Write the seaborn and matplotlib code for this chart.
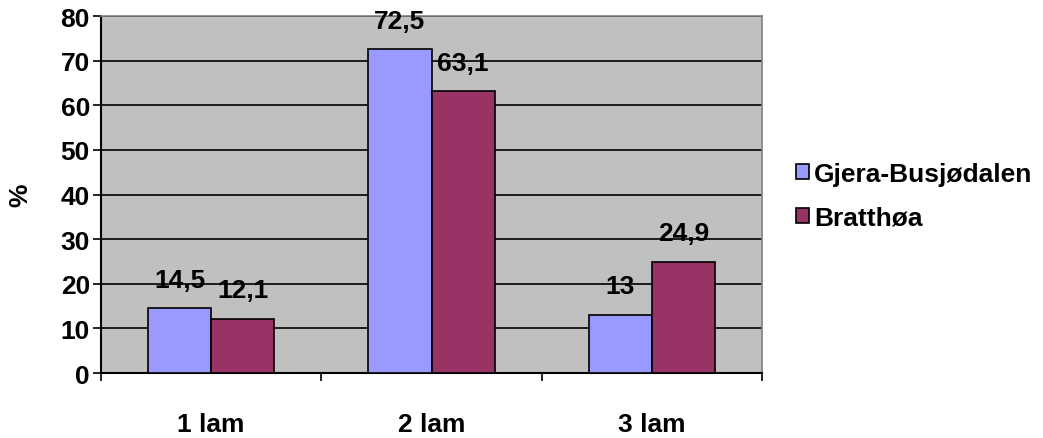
import matplotlib
matplotlib.use('Agg')
import matplotlib.pyplot as plt
from matplotlib.ticker import FixedLocator, MultipleLocator
import seaborn as sns
import pandas as pd

categories = ['1 lam', '2 lam', '3 lam']
gjera = [14.5, 72.5, 13]
bratthoa = [12.1, 63.1, 24.9]
series_names = ['Gjera-Busjødalen', 'Bratthøa']

df = pd.DataFrame({
    'kategori': categories * 2,
    'verdi': gjera + bratthoa,
    'omrade': [series_names[0]] * 3 + [series_names[1]] * 3,
})

sns.set_style('white')
plt.rcParams['font.family'] = ['Liberation Sans', 'DejaVu Sans']
plt.rcParams['font.weight'] = 'bold'
plt.rcParams['text.color'] = 'black'
plt.rcParams['xtick.color'] = 'black'
plt.rcParams['ytick.color'] = 'black'
plt.rcParams['axes.labelcolor'] = 'black'

FS = 19

fig = plt.figure(figsize=(10.43, 4.39), dpi=100)
ax = fig.add_axes([101 / 1043, 1 - 374 / 439, 661 / 1043, 357 / 439])
ax.set_facecolor('#c0c0c0')

sns.barplot(data=df, x='kategori', y='verdi', hue='omrade',
            palette=['#9999ff', '#993366'], edgecolor='black', linewidth=1.2,
            width=0.573, saturation=1, ax=ax, zorder=3, legend=True)

for cont in ax.containers:
    ax.bar_label(cont, labels=[f'{v:g}'.replace('.', ',') for v in cont.datavalues],
                 padding=12, fontsize=FS, fontweight='bold', clip_on=False)

ax.set_ylim(0, 80)
ax.set_xlim(-0.5, 2.5)
ax.yaxis.set_major_locator(MultipleLocator(10))
ax.yaxis.grid(True, color='black', linewidth=1.2, zorder=0)
ax.set_axisbelow(True)

ax.set_xlabel('')
ax.set_ylabel('%', fontsize=FS, fontweight='bold', labelpad=20)
ax.tick_params(axis='y', which='major', left=True, length=6, width=1.2,
               labelsize=FS, pad=2)
ax.tick_params(axis='x', which='major', bottom=False, length=0, labelsize=FS, pad=28)
ax.xaxis.set_minor_locator(FixedLocator([-0.5, 0.5, 1.5, 2.5]))
ax.tick_params(axis='x', which='minor', bottom=True, length=6, width=1.2)
for lab in ax.get_xticklabels() + ax.get_yticklabels():
    lab.set_fontweight('bold')

for s in ['left', 'bottom']:
    ax.spines[s].set_color('black')
    ax.spines[s].set_linewidth(1.5)
for s in ['top', 'right']:
    ax.spines[s].set_color('#808080')
    ax.spines[s].set_linewidth(1.2)

handles, labels = ax.get_legend_handles_labels()
ax.get_legend().remove()
fig.legend(handles, labels, loc='center left', bbox_to_anchor=(772 / 1043, 1 - 197 / 439),
           frameon=False, handlelength=0.5, handleheight=0.5,
           handletextpad=0.2, labelspacing=0.75, prop={'weight': 'bold', 'size': FS})

fig.savefig('out.png', dpi=100)
